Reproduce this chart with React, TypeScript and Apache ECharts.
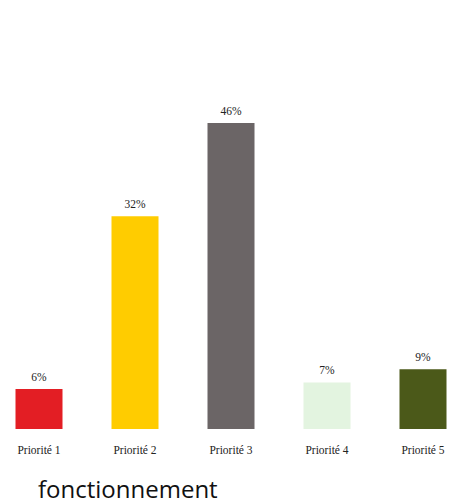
import React, { useEffect, useRef } from "react";
import * as echarts from "echarts";

const categories = ["Priorité 1", "Priorité 2", "Priorité 3", "Priorité 4", "Priorité 5"];
const values = [6, 32, 46, 7, 9];
const barColors = ["#E31E24", "#FFCC00", "#6B6566", "#E3F4E0", "#4B5919"];
const subtitle = "fonctionnement";

export default function App() {
  const ref = useRef<HTMLDivElement>(null);
  useEffect(() => {
    if (!ref.current) return;
    const chart = echarts.init(ref.current, null, { renderer: "svg" });
    chart.setOption({
      animation: false,
      backgroundColor: "#ffffff",
      grid: { left: 0, right: 0, top: 30, bottom: 74, containLabel: false },
      xAxis: {
        type: "category",
        data: categories,
        axisLine: { show: false },
        axisTick: { show: false },
        axisLabel: {
          margin: 15,
          fontFamily: "Liberation Serif",
          fontSize: 11.5,
          color: "#222222",
          interval: 0,
        },
      },
      yAxis: {
        type: "value",
        min: 0,
        max: 60,
        show: false,
        splitLine: { show: false },
      },
      series: [
        {
          type: "bar",
          barWidth: 47,
          data: values.map((v, i) => ({ value: v, itemStyle: { color: barColors[i] } })),
          label: {
            show: true,
            position: "top",
            distance: 6,
            formatter: "{c}%",
            fontFamily: "Liberation Serif",
            fontSize: 11.5,
            color: "#222222",
          },
        },
      ],
      graphic: [
        {
          type: "text",
          left: 47,
          top: 476,
          style: {
            text: subtitle,
            font: "24px 'Open Sans'",
            fill: "#111111",
          },
        },
      ],
    });
    return () => chart.dispose();
  }, []);
  return (
    <div style={{ position: "absolute", left: 0, top: 0, width: 455, height: 503, overflow: "hidden", background: "#fff" }}>
      <div
        ref={ref}
        style={{ position: "absolute", left: -9, top: 0, width: 480, height: 503 }}
      />
    </div>
  );
}
